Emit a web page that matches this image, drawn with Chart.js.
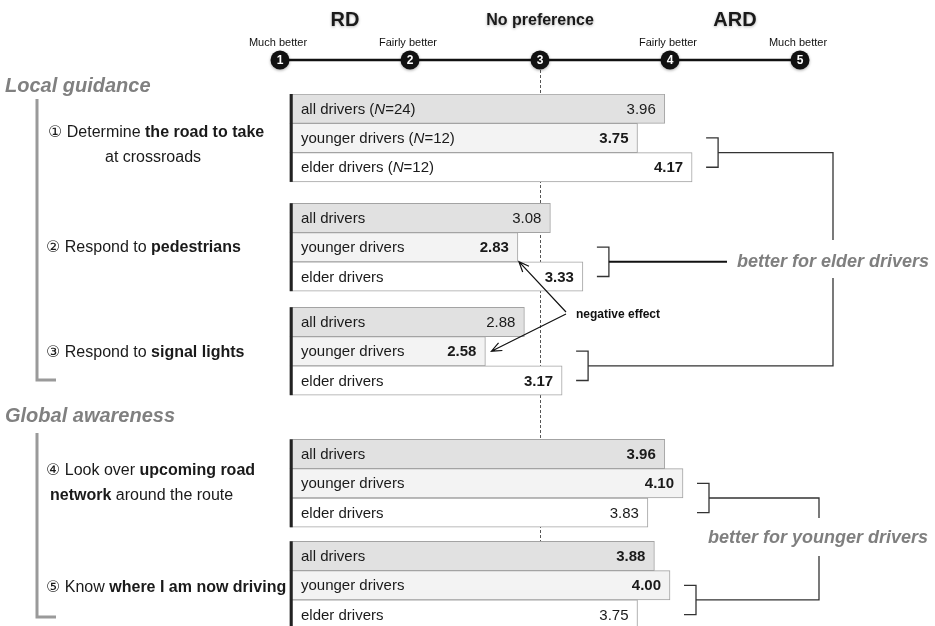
<!DOCTYPE html>
<html lang="en">
<head>
  <meta charset="UTF-8">
  <title>RD vs ARD preference</title>
  <script src="https://cdn.jsdelivr.net/npm/chart.js@4.4.1/dist/chart.umd.min.js"></script>
  <style>
    html, body { margin: 0; padding: 0; background: #fff; }
    #wrap { width: 935px; height: 626px; }
  </style>
</head>
<body>
<div id="wrap"><canvas id="prefChart" width="935" height="626"></canvas></div>

<script>
// ---- data ----
const rowNames = ['all drivers', 'younger drivers', 'elder drivers'];
const rowNamesFirst = ['all drivers (N=24)', 'younger drivers (N=12)', 'elder drivers (N=12)'];
const allDrivers     = [3.96, 3.08, 2.88, 3.96, 3.88];
const youngerDrivers = [3.75, 2.83, 2.58, 4.10, 4.00];
const elderDrivers   = [4.17, 3.33, 3.17, 3.83, 3.75];
const boldAll     = [false, false, false, true, true];
const boldYounger = [true, true, true, true, true];
const boldElder   = [true, true, true, false, false];
const scaleValues = [1, 2, 3, 4, 5];
const scaleLabels = ['Much better', 'Fairly better', '', 'Fairly better', 'Much better'];

// ---- layout (row units on the y scale) ----
const groupStart = [0, 3.73, 7.28, 11.79, 15.27];
const Y_MAX = 18.16;
const BAR_BASE = 1.075;
const FONT = '"Liberation Sans", Arial, "DejaVu Sans", sans-serif';

const points = [], fills = [], bolds = [], labels = [];
const series = [allDrivers, youngerDrivers, elderDrivers];
const boldSeries = [boldAll, boldYounger, boldElder];
const rowFill = ['#e1e1e1', '#f3f3f3', '#ffffff'];
for (let g = 0; g < groupStart.length; g++) {
  for (let r = 0; r < 3; r++) {
    points.push({ x: series[r][g], y: groupStart[g] + r + 0.5 });
    fills.push(rowFill[r]);
    bolds.push(boldSeries[r][g]);
    labels.push(g === 0 ? rowNamesFirst[r] : rowNames[r]);
  }
}

function richText(ctx, parts, x, y, size) {
  // parts: [text, bold, italic]
  ctx.textAlign = 'left';
  for (const p of parts) {
    ctx.font = (p[2] ? 'italic ' : '') + (p[1] ? 'bold ' : '') + size + 'px ' + FONT;
    ctx.fillText(p[0], x, y);
    x += ctx.measureText(p[0]).width;
  }
}

function bracket(ctx, x, y1, y2, w) {
  ctx.beginPath();
  ctx.moveTo(x - w, y1); ctx.lineTo(x, y1); ctx.lineTo(x, y2); ctx.lineTo(x - w, y2);
  ctx.stroke();
}

function arrow(ctx, x1, y1, x2, y2) {
  const a = Math.atan2(y2 - y1, x2 - x1);
  ctx.beginPath();
  ctx.moveTo(x1, y1); ctx.lineTo(x2, y2);
  ctx.moveTo(x2 - 11 * Math.cos(a - 0.4), y2 - 11 * Math.sin(a - 0.4));
  ctx.lineTo(x2, y2);
  ctx.lineTo(x2 - 11 * Math.cos(a + 0.4), y2 - 11 * Math.sin(a + 0.4));
  ctx.stroke();
}

const decor = {
  id: 'decor',
  beforeDatasetsDraw(chart) {
    const ctx = chart.ctx, xs = chart.scales.x;
    const x3 = Math.round(xs.getPixelForValue(3)) + 0.5;
    ctx.save();
    ctx.strokeStyle = '#555';
    ctx.lineWidth = 1;
    ctx.setLineDash([3, 2]);
    ctx.beginPath(); ctx.moveTo(x3, 70); ctx.lineTo(x3, 626); ctx.stroke();
    ctx.restore();
  },
  afterDatasetsDraw(chart) {
    const ctx = chart.ctx, xs = chart.scales.x, ys = chart.scales.y;
    const bars = chart.getDatasetMeta(0).data;
    ctx.save();
    ctx.textBaseline = 'middle';
    bars.forEach((bar, i) => {
      // row label
      ctx.fillStyle = '#1a1a1a';
      const lbl = labels[i];
      const m = lbl.match(/^(.*\()N(=.*)$/);
      if (m) richText(ctx, [[m[1]], ['N', false, true], [m[2]]], 301, bar.y + 1, 15);
      else richText(ctx, [[lbl]], 301, bar.y + 1, 15);
      // value
      ctx.textAlign = 'right';
      ctx.font = (bolds[i] ? 'bold ' : '') + '15px ' + FONT;
      ctx.fillText(points[i].x.toFixed(2), bar.x - 9, bar.y + 1);
    });
    // dark left edge of each group
    ctx.fillStyle = '#222';
    const xb = xs.getPixelForValue(BAR_BASE);
    groupStart.forEach(s => {
      const t = ys.getPixelForValue(s), b = ys.getPixelForValue(s + 3);
      ctx.fillRect(xb, t, 3, b - t);
    });
    ctx.restore();
  },
  afterDraw(chart) {
    const ctx = chart.ctx, xs = chart.scales.x, ys = chart.scales.y;
    ctx.save();
    ctx.textBaseline = 'middle';

    // top scale
    const sy = 60;
    ctx.strokeStyle = '#111';
    ctx.lineWidth = 2.5;
    ctx.beginPath();
    ctx.moveTo(xs.getPixelForValue(scaleValues[0]), sy);
    ctx.lineTo(xs.getPixelForValue(scaleValues[scaleValues.length - 1]), sy);
    ctx.stroke();
    scaleValues.forEach((v, i) => {
      const px = xs.getPixelForValue(v);
      ctx.save();
      ctx.shadowColor = 'rgba(0,0,0,0.35)'; ctx.shadowBlur = 3; ctx.shadowOffsetY = 1;
      ctx.fillStyle = '#111';
      ctx.beginPath(); ctx.arc(px, sy, 9.5, 0, Math.PI * 2); ctx.fill();
      ctx.restore();
      ctx.fillStyle = '#fff';
      ctx.textAlign = 'center';
      ctx.font = 'bold 12px ' + FONT;
      ctx.fillText(String(v), px, sy + 1);
      if (scaleLabels[i]) {
        ctx.fillStyle = '#111';
        ctx.font = '11px ' + FONT;
        ctx.fillText(scaleLabels[i], px - 2, 43);
      }
    });
    ctx.save();
    ctx.shadowColor = 'rgba(0,0,0,0.3)'; ctx.shadowBlur = 3; ctx.shadowOffsetY = 1;
    ctx.fillStyle = '#1a1a1a';
    ctx.textAlign = 'center';
    ctx.font = 'bold 20px ' + FONT;
    ctx.fillText('RD', (xs.getPixelForValue(1) + xs.getPixelForValue(2)) / 2, 20);
    ctx.fillText('ARD', (xs.getPixelForValue(4) + xs.getPixelForValue(5)) / 2, 20);
    ctx.font = 'bold 16px ' + FONT;
    ctx.fillText('No preference', xs.getPixelForValue(3), 21);
    ctx.restore();

    // section headings + gray brackets
    ctx.fillStyle = '#808080';
    ctx.font = 'italic bold 20px ' + FONT;
    ctx.textAlign = 'left';
    ctx.fillText('Local guidance', 5, 86);
    ctx.fillText('Global awareness', 5, 416);
    ctx.strokeStyle = '#9a9a9a';
    ctx.lineWidth = 3;
    ctx.beginPath();
    ctx.moveTo(37, 99); ctx.lineTo(37, 380); ctx.lineTo(56, 380);
    ctx.moveTo(37, 433); ctx.lineTo(37, 617); ctx.lineTo(56, 617);
    ctx.stroke();

    // task labels
    ctx.fillStyle = '#1a1a1a';
    const mid = g => ys.getPixelForValue(groupStart[g] + 1.5);
    richText(ctx, [['\u2460 Determine '], ['the road to take', true]], 48, mid(0) - 5, 16);
    richText(ctx, [['at crossroads']], 105, mid(0) + 20, 16);
    richText(ctx, [['\u2461 Respond to '], ['pedestrians', true]], 46, mid(1), 16);
    richText(ctx, [['\u2462 Respond to '], ['signal lights', true]], 46, mid(2) + 1, 16);
    richText(ctx, [['\u2463 Look over '], ['upcoming road', true]], 46, mid(3) - 13, 16);
    richText(ctx, [['network', true], [' around the route']], 50, mid(3) + 12, 16);
    richText(ctx, [['\u2464 Know '], ['where I am now driving', true]], 46, mid(4) + 2, 16);

    // right-side brackets
    const rowY = (g, r) => ys.getPixelForValue(groupStart[g] + r + 0.5);
    const tipX = g => Math.max(xs.getPixelForValue(youngerDrivers[g]), xs.getPixelForValue(elderDrivers[g])) + 14;
    ctx.strokeStyle = '#333';
    ctx.lineWidth = 1.3;
    const bx = [];
    for (let g = 0; g < 5; g++) {
      bx[g] = tipX(g) + 12;
      bracket(ctx, bx[g], rowY(g, 1), rowY(g, 2), 12);
    }
    const m0 = (rowY(0, 1) + rowY(0, 2)) / 2, m2 = (rowY(2, 1) + rowY(2, 2)) / 2;
    const m3 = (rowY(3, 1) + rowY(3, 2)) / 2, m4 = (rowY(4, 1) + rowY(4, 2)) / 2;
    ctx.beginPath();
    ctx.moveTo(bx[0], m0); ctx.lineTo(833, m0); ctx.lineTo(833, 240);
    ctx.moveTo(833, 278); ctx.lineTo(833, m2); ctx.lineTo(bx[2], m2);
    ctx.moveTo(bx[3], m3); ctx.lineTo(819, m3); ctx.lineTo(819, 518);
    ctx.moveTo(819, 556); ctx.lineTo(819, m4); ctx.lineTo(bx[4], m4);
    ctx.stroke();
    const m1 = (rowY(1, 1) + rowY(1, 2)) / 2;
    ctx.strokeStyle = '#111';
    ctx.lineWidth = 2;
    ctx.beginPath(); ctx.moveTo(bx[1], m1); ctx.lineTo(727, m1); ctx.stroke();

    ctx.fillStyle = '#7f7f7f';
    ctx.font = 'italic bold 18px ' + FONT;
    ctx.fillText('better for elder drivers', 737, m1);
    ctx.fillText('better for younger drivers', 708, 538);

    // negative effect arrows
    ctx.fillStyle = '#111';
    ctx.font = 'bold 12px ' + FONT;
    ctx.fillText('negative effect', 576, 315);
    ctx.strokeStyle = '#111';
    ctx.lineWidth = 1.2;
    const yb1 = rowY(1, 1) + 14.5;
    arrow(ctx, 566, 312, xs.getPixelForValue(youngerDrivers[1]) + 1, yb1);
    arrow(ctx, 566, 314, xs.getPixelForValue(youngerDrivers[2]) + 6, rowY(2, 1));
    ctx.restore();
  }
};

new Chart(document.getElementById('prefChart'), {
  type: 'bar',
  data: {
    datasets: [{
      data: points,
      base: BAR_BASE,
      backgroundColor: fills,
      borderColor: '#a3a3a3',
      borderWidth: 1,
      borderSkipped: false,
      barPercentage: 1,
      categoryPercentage: 1
    }]
  },
  options: {
    indexAxis: 'y',
    responsive: false,
    animation: false,
    devicePixelRatio: 1,
    layout: { padding: { left: 280, right: 135, top: 94, bottom: 0 } },
    scales: {
      x: { type: 'linear', min: 1, max: 5, display: false },
      y: { type: 'linear', min: 0, max: Y_MAX, reverse: true, offset: false, display: false, ticks: { stepSize: 1 } }
    },
    plugins: { legend: { display: false }, tooltip: { enabled: false } },
    events: []
  },
  plugins: [decor]
});
</script>
</body>
</html>
